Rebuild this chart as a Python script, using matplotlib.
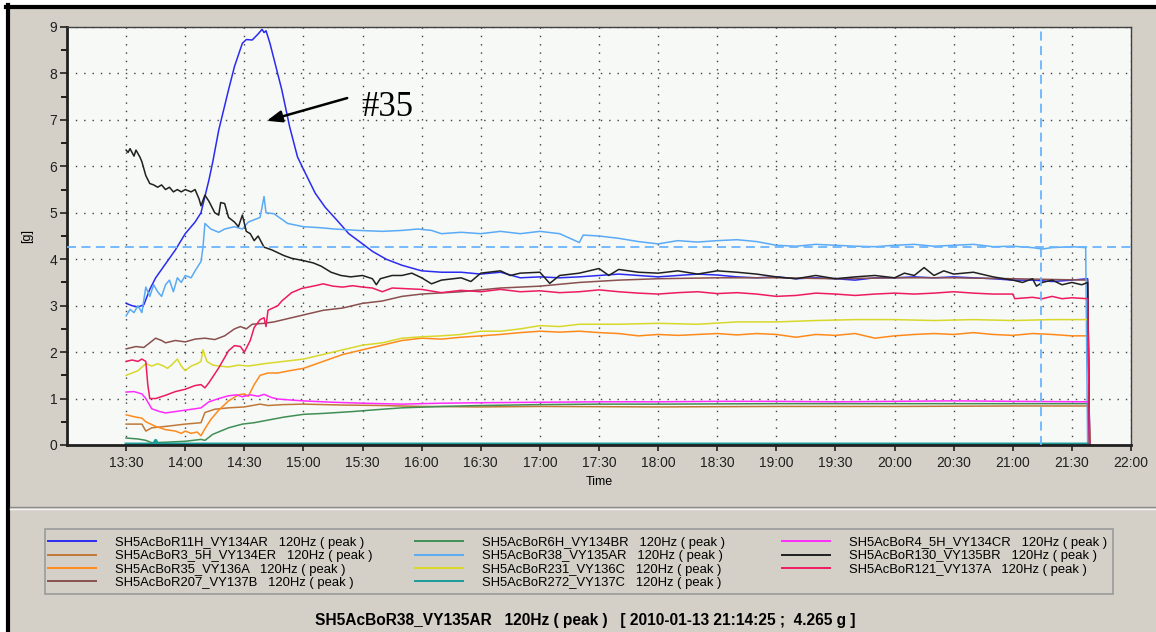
import matplotlib.pyplot as plt
from matplotlib.patches import Rectangle
from matplotlib.lines import Line2D

plt.rcParams['font.family'] = ['Liberation Sans', 'DejaVu Sans']

# ---- data: times as HH:MM, values in g ----
r11h_t = ["13:30", "13:33", "13:36", "13:39", "13:42", "13:45", "13:50", "13:55", "14:00", "14:05",
          "14:08", "14:12", "14:14", "14:17", "14:22", "14:25", "14:29", "14:31", "14:34", "14:37",
          "14:39", "14:40", "14:41", "14:43", "14:46", "14:49", "14:53", "14:57", "15:01", "15:06",
          "15:11", "15:17", "15:23", "15:30", "15:35", "15:42", "15:50", "16:00", "16:10", "16:20",
          "16:30", "16:40", "16:50", "17:00", "17:10", "17:20", "17:30", "17:40", "17:50", "18:00",
          "18:10", "18:20", "18:30", "18:40", "18:50", "19:00", "19:10", "19:20", "19:30", "19:40",
          "19:50", "20:00", "20:10", "20:20", "20:30", "20:40", "20:50", "21:00", "21:10", "21:20",
          "21:30", "21:38", "21:39"]
r11h_g = [3.05, 3.0, 2.97, 3.02, 3.35, 3.6, 3.9, 4.2, 4.55, 4.8,
          5.0, 5.7, 6.1, 6.78, 7.65, 8.15, 8.65, 8.73, 8.72, 8.85,
          8.95, 8.88, 8.92, 8.65, 8.15, 7.65, 6.85, 6.2, 5.85, 5.42,
          5.12, 4.84, 4.55, 4.33, 4.17, 4.0, 3.87, 3.75, 3.72, 3.72,
          3.68, 3.72, 3.6, 3.62, 3.6, 3.62, 3.65, 3.68, 3.65, 3.62,
          3.65, 3.68, 3.66, 3.62, 3.6, 3.62, 3.58, 3.6, 3.58, 3.55,
          3.6, 3.6, 3.62, 3.6, 3.62, 3.6, 3.58, 3.55, 3.55, 3.52,
          3.55, 3.58, 0.0]

r38_t = ["13:30", "13:32", "13:34", "13:36", "13:38", "13:40", "13:42", "13:44", "13:46", "13:48",
         "13:50", "13:52", "13:54", "13:56", "13:58", "14:00", "14:03", "14:05", "14:08", "14:09",
         "14:10", "14:13", "14:17", "14:20", "14:25", "14:29", "14:32", "14:35", "14:38", "14:40",
         "14:41", "14:45", "14:52", "15:00", "15:08", "15:16", "15:28", "15:40", "15:50", "15:58",
         "16:05", "16:10", "16:20", "16:30", "16:40", "16:50", "17:00", "17:10", "17:20", "17:22",
         "17:30", "17:40", "17:50", "18:00", "18:10", "18:20", "18:30", "18:40", "18:50", "19:00",
         "19:10", "19:20", "19:30", "19:40", "19:50", "20:00", "20:10", "20:20", "20:30", "20:40",
         "20:50", "21:00", "21:10", "21:15", "21:20", "21:30", "21:37", "21:38"]
r38_g = [2.78, 2.92, 2.85, 3.0, 2.85, 3.4, 3.2, 3.45, 3.3, 3.2,
         3.45, 3.55, 3.3, 3.6, 3.5, 3.65, 3.6, 3.75, 3.95, 4.25,
         4.77, 4.65, 4.58, 4.65, 4.7, 4.65, 4.8, 4.85, 4.9, 5.35,
         5.0, 4.98, 4.77, 4.7, 4.68, 4.65, 4.62, 4.6, 4.62, 4.65,
         4.62, 4.55, 4.58, 4.55, 4.6, 4.55, 4.6, 4.55, 4.36, 4.52,
         4.5, 4.45, 4.38, 4.33, 4.4, 4.37, 4.4, 4.42, 4.38, 4.3,
         4.28, 4.32, 4.3, 4.28, 4.27, 4.3, 4.32, 4.28, 4.3, 4.32,
         4.27, 4.28, 4.25, 4.22, 4.25, 4.27, 4.25, 0.0]

r130_t = ["13:30", "13:31", "13:32", "13:34", "13:35", "13:37", "13:38", "13:40", "13:42", "13:44",
          "13:46", "13:48", "13:50", "13:52", "13:54", "13:56", "13:58", "14:00", "14:03", "14:05",
          "14:07", "14:08", "14:10", "14:12", "14:15", "14:17", "14:18", "14:20", "14:22", "14:25",
          "14:27", "14:29", "14:31", "14:33", "14:35", "14:37", "14:40", "14:44", "14:50", "14:54",
          "15:00", "15:05", "15:09", "15:14", "15:19", "15:24", "15:30", "15:35", "15:37", "15:39",
          "15:45", "15:50", "15:55", "16:00", "16:05", "16:10", "16:20", "16:25", "16:30", "16:40",
          "16:45", "16:50", "17:00", "17:05", "17:10", "17:20", "17:30", "17:35", "17:40", "17:50",
          "18:00", "18:10", "18:20", "18:30", "18:40", "18:50", "19:00", "19:10", "19:20", "19:30",
          "19:40", "19:50", "20:00", "20:05", "20:10", "20:15", "20:20", "20:25", "20:30", "20:40",
          "20:50", "21:00", "21:05", "21:10", "21:12", "21:15", "21:20", "21:25", "21:30", "21:35",
          "21:38", "21:39"]
r130_g = [6.35, 6.3, 6.38, 6.22, 6.35, 6.2, 6.1, 5.8, 5.63, 5.6,
          5.55, 5.6, 5.5, 5.55, 5.45, 5.5, 5.45, 5.5, 5.45, 5.5,
          5.3, 5.15, 5.38, 5.25, 5.0, 4.95, 5.22, 5.2, 4.9, 4.8,
          4.7, 4.95, 4.6, 4.55, 4.4, 4.5, 4.26, 4.2, 4.08, 4.02,
          3.97, 3.92, 3.85, 3.72, 3.65, 3.62, 3.65, 3.58, 3.45, 3.58,
          3.65, 3.65, 3.7, 3.6, 3.47, 3.55, 3.6, 3.52, 3.7, 3.75,
          3.65, 3.7, 3.72, 3.48, 3.65, 3.7, 3.8, 3.65, 3.78, 3.72,
          3.7, 3.75, 3.68, 3.75, 3.72, 3.68, 3.62, 3.58, 3.65, 3.58,
          3.62, 3.65, 3.6, 3.7, 3.65, 3.82, 3.65, 3.75, 3.68, 3.72,
          3.62, 3.55, 3.5, 3.58, 3.42, 3.5, 3.55, 3.45, 3.5, 3.45,
          3.5, 0.0]

r121_t = ["13:30", "13:33", "13:36", "13:38", "13:40", "13:41", "13:42", "13:45", "13:50", "13:55",
          "14:00", "14:05", "14:08", "14:10", "14:12", "14:17", "14:22", "14:25", "14:28", "14:30",
          "14:33", "14:35", "14:38", "14:40", "14:41", "14:42", "14:47", "14:49", "14:54", "14:59",
          "15:06", "15:10", "15:15", "15:20", "15:25", "15:30", "15:35", "15:40", "15:45", "15:50",
          "16:00", "16:10", "16:20", "16:30", "16:40", "16:50", "17:00", "17:10", "17:20", "17:30",
          "17:40", "17:50", "18:00", "18:10", "18:20", "18:30", "18:40", "18:50", "19:00", "19:10",
          "19:20", "19:30", "19:40", "19:50", "20:00", "20:10", "20:20", "20:30", "20:40", "20:50",
          "21:00", "21:01", "21:10", "21:15", "21:20", "21:25", "21:30", "21:38", "21:39"]
r121_g = [1.8, 1.83, 1.8, 1.85, 1.8, 1.3, 1.0, 1.0, 1.07, 1.15,
          1.2, 1.28, 1.3, 1.23, 1.34, 1.66, 2.03, 2.14, 2.12, 2.0,
          2.25, 2.53, 2.7, 2.74, 2.55, 2.9, 3.0, 3.1, 3.28, 3.37,
          3.43, 3.47, 3.42, 3.4, 3.43, 3.4, 3.38, 3.3, 3.38, 3.37,
          3.35, 3.28, 3.33, 3.3, 3.35, 3.3, 3.32, 3.28, 3.3, 3.34,
          3.3, 3.27, 3.25, 3.28, 3.3, 3.26, 3.28, 3.25, 3.2, 3.22,
          3.27, 3.25, 3.22, 3.25, 3.27, 3.25, 3.27, 3.3, 3.27, 3.25,
          3.25, 3.15, 3.18, 3.15, 3.2, 3.15, 3.17, 3.15, 0.0]

r207_t = ["13:30", "13:35", "13:39", "13:42", "13:45", "13:48", "13:50", "13:55", "14:00", "14:05",
          "14:10", "14:15", "14:20", "14:25", "14:28", "14:31", "14:34", "14:40", "14:45", "14:50",
          "14:55", "15:00", "15:10", "15:20", "15:30", "15:40", "15:50", "16:00", "16:20", "16:40",
          "17:00", "17:20", "17:40", "18:00", "18:30", "19:00", "19:30", "20:00", "20:30", "21:00",
          "21:38", "21:39"]
r207_g = [2.07, 2.12, 2.1, 2.2, 2.3, 2.25, 2.2, 2.25, 2.22, 2.28,
          2.3, 2.27, 2.35, 2.5, 2.55, 2.5, 2.6, 2.62, 2.65, 2.7,
          2.75, 2.8, 2.9, 2.95, 3.05, 3.1, 3.2, 3.25, 3.3, 3.38,
          3.42, 3.5, 3.55, 3.58, 3.6, 3.6, 3.58, 3.6, 3.6, 3.58,
          3.55, 0.0]

r231_t = ["13:30", "13:33", "13:36", "13:40", "13:43", "13:46", "13:49", "13:51", "13:53", "13:56",
          "13:58", "14:00", "14:03", "14:06", "14:08", "14:09", "14:11", "14:14", "14:17", "14:22",
          "14:27", "14:32", "14:40", "14:50", "15:00", "15:10", "15:20", "15:30", "15:40", "15:50",
          "16:00", "16:10", "16:20", "16:30", "16:40", "16:50", "17:00", "17:10", "17:20", "17:40",
          "18:00", "18:20", "18:40", "19:00", "19:20", "19:40", "20:00", "20:20", "20:40", "21:00",
          "21:20", "21:38", "21:39"]
r231_g = [1.5, 1.55, 1.6, 1.75, 1.7, 1.75, 1.7, 1.65, 1.72, 1.85,
          1.7, 1.6, 1.7, 1.75, 1.8, 2.05, 1.8, 1.72, 1.7, 1.68,
          1.72, 1.7, 1.75, 1.8, 1.85, 1.95, 2.05, 2.15, 2.2, 2.3,
          2.33, 2.35, 2.38, 2.45, 2.45, 2.5, 2.57, 2.55, 2.6, 2.6,
          2.62, 2.6, 2.65, 2.65, 2.68, 2.7, 2.7, 2.68, 2.7, 2.68,
          2.7, 2.7, 0.0]

r35_t = ["13:30", "13:35", "13:38", "13:40", "13:45", "13:50", "13:55", "13:58", "14:00", "14:03",
         "14:06", "14:08", "14:10", "14:13", "14:17", "14:22", "14:27", "14:30", "14:32", "14:35",
         "14:38", "14:42", "14:47", "14:53", "15:00", "15:10", "15:20", "15:30", "15:40", "15:50",
         "16:00", "16:10", "16:20", "16:30", "16:40", "16:50", "17:00", "17:10", "17:20", "17:30",
         "17:40", "17:50", "18:00", "18:10", "18:20", "18:30", "18:40", "18:50", "19:00", "19:10",
         "19:20", "19:30", "19:40", "19:50", "20:00", "20:10", "20:20", "20:30", "20:40", "20:50",
         "21:00", "21:10", "21:20", "21:30", "21:38", "21:39"]
r35_g = [0.65, 0.6, 0.58, 0.5, 0.4, 0.33, 0.3, 0.25, 0.3, 0.25,
         0.28, 0.2, 0.35, 0.55, 0.75, 0.95, 1.08, 1.1, 1.05, 1.3,
         1.5, 1.55, 1.55, 1.6, 1.65, 1.8, 1.95, 2.05, 2.15, 2.25,
         2.3, 2.28, 2.32, 2.35, 2.38, 2.42, 2.45, 2.43, 2.45, 2.42,
         2.4, 2.35, 2.38, 2.36, 2.38, 2.4, 2.37, 2.4, 2.38, 2.32,
         2.38, 2.36, 2.4, 2.3, 2.35, 2.38, 2.4, 2.38, 2.42, 2.38,
         2.36, 2.4, 2.38, 2.35, 2.35, 0.0]

r45h_t = ["13:30", "13:34", "13:38", "13:40", "13:43", "13:47", "13:50", "13:55", "14:00", "14:05",
          "14:08", "14:12", "14:17", "14:22", "14:26", "14:29", "14:33", "14:37", "14:40", "14:44",
          "14:47", "14:53", "15:00", "15:15", "15:30", "15:50", "16:10", "16:30", "17:00", "17:30",
          "18:00", "18:30", "19:00", "19:30", "20:00", "20:30", "21:00", "21:38", "21:39"]
r45h_g = [1.14, 1.15, 1.1, 1.0, 0.78, 0.72, 0.69, 0.72, 0.75, 0.78,
          0.8, 0.93, 1.0, 1.06, 1.08, 1.04, 1.08, 1.05, 1.09, 1.02,
          0.99, 0.97, 0.95, 0.92, 0.9, 0.88, 0.9, 0.91, 0.92, 0.93,
          0.93, 0.94, 0.94, 0.93, 0.94, 0.95, 0.94, 0.93, 0.0]

r6h_t = ["13:30", "13:36", "13:40", "13:43", "13:50", "14:00", "14:08", "14:10", "14:14", "14:18",
         "14:22", "14:29", "14:35", "14:40", "14:50", "15:00", "15:10", "15:25", "15:40", "15:50",
         "16:10", "16:30", "17:00", "17:30", "18:00", "19:00", "20:00", "21:00", "21:38", "21:39"]
r6h_g = [0.15, 0.13, 0.1, 0.05, 0.06, 0.08, 0.12, 0.1, 0.23, 0.3,
         0.37, 0.45, 0.48, 0.52, 0.6, 0.66, 0.68, 0.72, 0.77, 0.8,
         0.83, 0.85, 0.87, 0.88, 0.88, 0.89, 0.89, 0.89, 0.89, 0.0]

r35h_t = ["13:30", "13:38", "13:40", "13:43", "13:50", "14:00", "14:08", "14:10", "14:15", "14:22",
          "14:30", "14:38", "14:42", "14:50", "15:00", "15:20", "15:40", "16:00", "16:30", "17:00",
          "18:00", "19:00", "20:00", "21:00", "21:38", "21:39"]
r35h_g = [0.45, 0.45, 0.3, 0.37, 0.4, 0.45, 0.48, 0.7, 0.77, 0.8,
          0.82, 0.88, 0.85, 0.87, 0.88, 0.86, 0.85, 0.83, 0.82, 0.83,
          0.82, 0.83, 0.83, 0.84, 0.84, 0.0]

r272_t = ["13:30", "13:44", "13:45", "13:46", "21:38", "21:39"]
r272_g = [0.02, 0.02, 0.1, 0.02, 0.02, 0.0]

cursor_time = "21:14:25"
cursor_value = 4.265


def hours(ts):
    out = []
    for s in ts:
        p = [int(v) for v in s.split(":")]
        out.append(p[0] + p[1] / 60 + (p[2] / 3600 if len(p) > 2 else 0))
    return out


suffix = "   120Hz ( peak )"
# legend order (column-wise, 3 columns)
series = [
    ("SH5AcBoR11H_VY134AR", "#2b2bf0", r11h_t, r11h_g),
    ("SH5AcBoR3_5H_VY134ER", "#c07838", r35h_t, r35h_g),
    ("SH5AcBoR35_VY136A", "#ff8a1c", r35_t, r35_g),
    ("SH5AcBoR207_VY137B", "#8a5050", r207_t, r207_g),
    ("SH5AcBoR6H_VY134BR", "#3f8f55", r6h_t, r6h_g),
    ("SH5AcBoR38_VY135AR", "#5aaaf5", r38_t, r38_g),
    ("SH5AcBoR231_VY136C", "#d8d82a", r231_t, r231_g),
    ("SH5AcBoR272_VY137C", "#1a9c9c", r272_t, r272_g),
    ("SH5AcBoR4_5H_VY134CR", "#ff2cff", r45h_t, r45h_g),
    ("SH5AcBoR130_VY135BR", "#202020", r130_t, r130_g),
    ("SH5AcBoR121_VY137A", "#ee1a62", r121_t, r121_g),
]

W, H = 1156, 632
fig = plt.figure(figsize=(W / 100, H / 100), dpi=100, facecolor="white")

# window panel + black edge
fig.patches.append(Rectangle((9 / W, 0), 1, 1 - 8 / H, transform=fig.transFigure,
                             facecolor="#d4d0c8", edgecolor="none", zorder=-10))
fig.add_artist(Line2D([8 / W, 8 / W], [0, 1 - 5 / H], color="black", lw=3,
                      transform=fig.transFigure))
fig.add_artist(Line2D([6 / W, 1], [1 - 6.5 / H, 1 - 6.5 / H], color="black", lw=3,
                      transform=fig.transFigure))
fig.add_artist(Line2D([9.5 / W, 1], [1 - 507 / H, 1 - 507 / H], color="#8a8a8a", lw=1,
                      transform=fig.transFigure))
fig.add_artist(Line2D([9.5 / W, 1], [1 - 508.5 / H, 1 - 508.5 / H], color="#f4f4f4", lw=1,
                      transform=fig.transFigure))

ax = fig.add_axes([67 / W, 1 - 445 / H, (1131 - 67) / W, (445 - 27) / H])
ax.set_facecolor("#f6f9f6")

handles = []
for name, col, t, g in series:
    lw = 2.2 if name == "SH5AcBoR272_VY137C" else 1.1
    ln, = ax.plot(hours(t), g, color=col, lw=lw, label=name + suffix)
    handles.append(ln)

# cursor
ct = hours([cursor_time])[0]
ax.axvline(ct, color="#6ab4ff", lw=1.3, ls=(0, (5, 3)), zorder=5)
ax.axhline(cursor_value, color="#6ab4ff", lw=1.3, ls=(0, (5, 3)), zorder=5)

ax.set_xlim(13.0, 22.0)
ax.set_ylim(0, 9)
xt = [13.5 + 0.5 * i for i in range(18)]
ax.set_xticks(xt)
ax.set_xticklabels(["%d:%02d" % (int(v), round((v % 1) * 60)) for v in xt], fontsize=10)
ax.set_yticks(range(10))
ax.set_yticklabels([str(i) for i in range(10)], fontsize=10)
ax.set_yticks([i + 0.5 for i in range(9)], minor=True)
ax.tick_params(axis="y", which="major", length=5, width=1.2, pad=2, colors="#202020")
ax.tick_params(axis="y", which="minor", length=4, width=1.2)
ax.tick_params(axis="x", length=4, width=1.2, pad=4, colors="#202020")
ax.grid(True, which="major", ls=(0, (1, 5)), color="#404040", lw=1)

for s in ["left", "bottom"]:
    ax.spines[s].set_linewidth(2)
    ax.spines[s].set_color("#202020")
for s in ["top", "right"]:
    ax.spines[s].set_linewidth(1)
    ax.spines[s].set_color("#404040")

ax.set_xlabel("Time", fontsize=9, labelpad=4)
ax.set_ylabel("[g]", fontsize=9, labelpad=12)

# annotation
ax.annotate("", xy=(14.69, 6.98), xytext=(15.37, 7.47),
            arrowprops=dict(arrowstyle="-|>,head_length=0.9,head_width=0.35",
                            lw=1.8, color="black", shrinkA=0, shrinkB=0))
ax.text(15.49, 7.26, "#35", fontsize=25, family="Liberation Serif", ha="left", va="center")

# legend: grey box with three fixed-width columns
fig.patches.append(Rectangle((45 / W, 1 - 594 / H), (1113 - 45) / W, (594 - 529) / H,
                             transform=fig.transFigure, facecolor="#d4d0c8",
                             edgecolor="#9a9a9a", lw=1.2, zorder=-5))
col_x = [48, 415, 782]
for i, x0 in enumerate(col_x):
    leg = fig.legend(handles=handles[4 * i:4 * i + 4], loc="upper left",
                     bbox_to_anchor=(x0 / W, 1 - 536.5 / H), bbox_transform=fig.transFigure,
                     borderaxespad=0, borderpad=0, fontsize=9.4, handlelength=3.7,
                     handletextpad=1.45, labelspacing=0.1, frameon=False)
    for h in leg.get_lines():
        h.set_linewidth(1.4)

fig.text(585 / W, 1 - 621 / H,
         "SH5AcBoR38_VY135AR   120Hz ( peak )   [ 2010-01-13 21:14:25 ;  4.265 g ]",
         fontsize=11.2, weight="bold", ha="center", va="center")

plt.savefig("out.png", dpi=100, facecolor=fig.get_facecolor())
